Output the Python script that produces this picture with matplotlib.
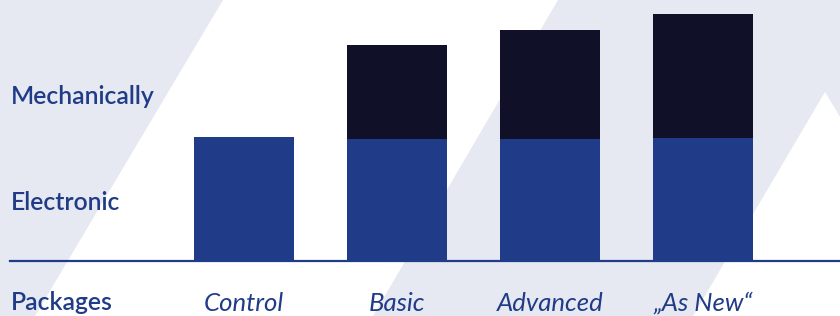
import matplotlib.pyplot as plt
from matplotlib.patches import Polygon

packages = ['Control', 'Basic', 'Advanced', '\u201eAs New\u201c']
electronic = [124, 122, 122, 123]
mechanical = [0, 94, 109, 124]

blue = '#203b87'
dark = '#101128'
grey = '#e6e9f1'

plt.rcParams['font.family'] = ['Lato', 'DejaVu Sans']

fig = plt.figure(figsize=(8.4, 3.16), dpi=100)

# background with diagonal stripes (pixel coords)
bg = fig.add_axes([0, 0, 1, 1])
bg.set_xlim(0, 840)
bg.set_ylim(316, 0)
bg.axis('off')
bg.add_patch(Polygon([(0, 0), (840, 0), (840, 316), (0, 316)], color=grey, lw=0))
bg.add_patch(Polygon([(223, 0), (558, 0), (373, 316), (35, 316)], color='white', lw=0))
bg.add_patch(Polygon([(693, 316), (825, 92), (960, 316)], color='white', lw=0))

ax = fig.add_axes([0, 55 / 316, 1, 261 / 316])
ax.patch.set_alpha(0)
pos = list(range(len(packages)))
ax.bar(pos, electronic, width=0.654, color=blue, zorder=3)
ax.bar(pos, mechanical, width=0.654, bottom=electronic, color=dark, zorder=3)
ax.set_xlim(-244 / 153, 596 / 153)
ax.set_ylim(0, 261)
ax.axhline(0, xmin=10 / 840, xmax=1, color=blue, lw=1.6, clip_on=False, zorder=2)

for s in ax.spines.values():
    s.set_visible(False)
ax.set_yticks([])
ax.set_xticks(pos)
ax.set_xticklabels(packages, fontsize=18.5, style='italic', color=blue)
ax.tick_params(axis='x', length=0, pad=22)

for label, y in [('Mechanically', 96), ('Electronic', 202), ('Packages', 302)]:
    fig.text(11 / 840, 1 - y / 316, label, fontsize=17.8, fontweight='semibold',
             color=blue, va='center', ha='left')

fig.savefig('out.png', dpi=100)
